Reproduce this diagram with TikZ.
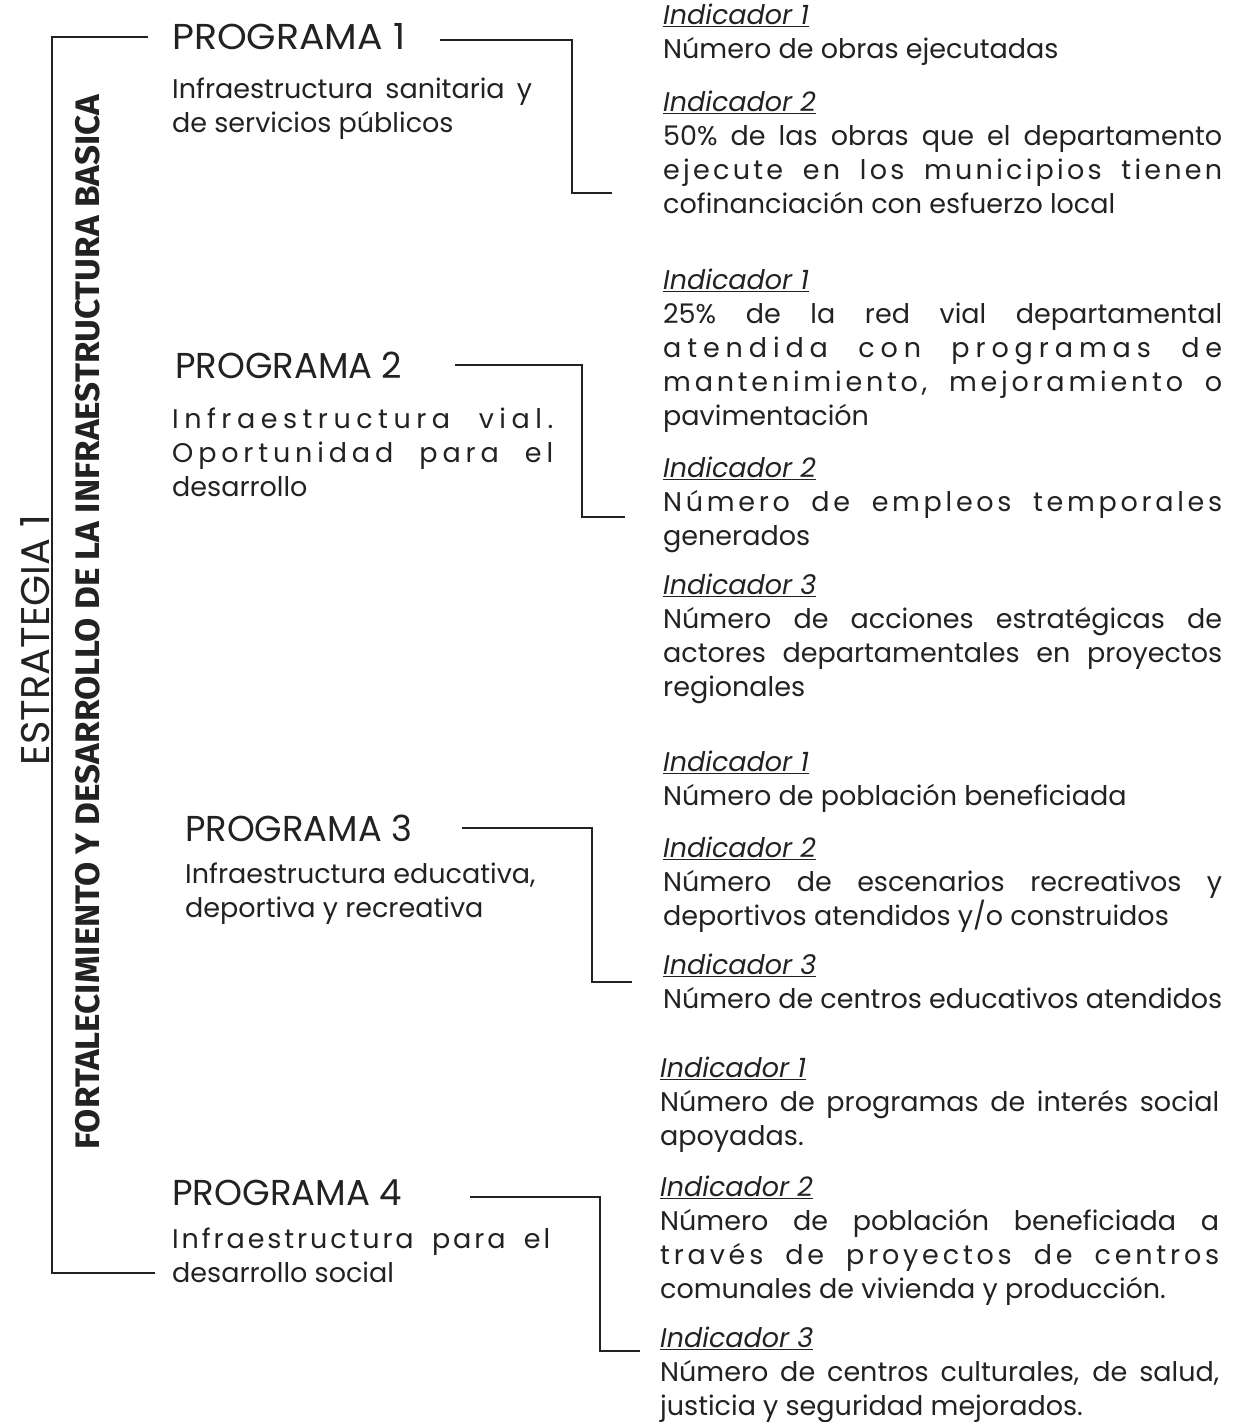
\documentclass[tikz,border=0pt]{standalone}
\usepackage{fontspec}
\usepackage{graphicx}
\setmainfont{Poppins}
\newfontfamily\boldsans{Fira Sans}
\usetikzlibrary{calc}
\def\cw{300pt}
% first-line strut handling
\def\firststrut{\rule{0pt}{30pt}}
\let\strutx\relax
\def\Fst{\global\let\strutx\firststrut}
\def\usestrut{\strutx\global\let\strutx\relax}
% justified line: spread word spaces
\newcommand\Jl[1]{\sbox0{#1}\ifdim\wd0>\cw\relax\hbox{\usestrut\resizebox{\cw}{\height}{#1}}\else\hbox to \cw{\usestrut\spaceskip=0.25em plus 1fil\relax#1}\fi}
% justified line: spread letters and words
\def\lsloop#1{\ifx\relax#1\else#1\hskip 0pt plus 1fil\relax\expandafter\lsloop\fi}
\def\lswords#1 #2\end{\lsloop#1\relax\ifx\relax#2\relax\else\hskip 0.25em plus 3fil\relax\lswords#2\end\fi}
\newcommand\Jls[1]{\hbox to \cw{\usestrut\lswords#1 \end\unskip}}
% last (left) line
\newcommand\Ln[1]{\sbox0{#1}\ifdim\wd0>\cw\relax\hbox{\usestrut\resizebox{\cw}{\height}{#1}}\else\hbox to \cw{\usestrut\box0\hfil}\fi}
\newcommand\Ind[1]{\hbox to \cw{\usestrut\underline{\textit{#1}}\hfil}}
% a block of lines stacked vertically
\newcommand\Blk[1]{\vtop{\Fst#1}}
\definecolor{ink}{HTML}{222222}
\tikzset{
  col/.style={/utils/exec={\def\cw{#1}}},
  body/.style={anchor=north west,inner sep=0pt,text=ink,font=\fontsize{27}{34}\selectfont},
  prog/.style={anchor=west,inner sep=0pt,text=ink,font=\fontsize{36}{36}\selectfont},
  conn/.style={draw=ink,line width=1.6pt},
}
\begin{document}
\begin{tikzpicture}[x=1pt,y=-1pt]
\useasboundingbox (0,0) rectangle (1244,1422);
\fill[white] (0,0) rectangle (1244,1422);

% rotated titles
\node[rotate=90,inner sep=0pt,text=ink] (estr) at (35,640)
  {\resizebox{250pt}{\height}{\fontsize{40}{40}\selectfont ESTRATEGIA 1}};
\node[rotate=90,inner sep=0pt,text=ink] (fort) at (88,622)
  {\resizebox{1055pt}{\height}{\boldsans\bfseries\fontsize{34}{34}\selectfont FORTALECIMIENTO Y DESARROLLO DE LA INFRAESTRUCTURA BASICA}};

% left bracket
\coordinate (bt) at (148,37);
\coordinate (bb) at (155,1273);
\draw[conn] (bt) -| ($(bb)+(-103,0)$) -- (bb);

% programs
\node[prog] (p1) at (172,37) {\resizebox{233pt}{\height}{PROGRAMA 1}};
\node[body,col=360pt] (p1s) at (172,68)
  {\Blk{\Jl{Infraestructura sanitaria y}\Ln{de servicios públicos}}};

\node[prog] (p2) at (175,365) {\resizebox{227pt}{\height}{PROGRAMA 2}};
\node[body,col=381pt] (p2s) at (172,398)
  {\Blk{\Jls{Infraestructura vial.}\Jls{Oportunidad para el}\Ln{desarrollo}}};

\node[prog] (p3) at (185,828) {\resizebox{227pt}{\height}{PROGRAMA 3}};
\node[body,col=360pt] (p3s) at (185,853)
  {\Blk{\Ln{Infraestructura educativa,}\Ln{deportiva y recreativa}}};

\node[prog] (p4) at (172,1193) {\resizebox{230pt}{\height}{PROGRAMA 4}};
\node[body,col=378pt] (p4s) at (172,1218)
  {\Blk{\Jls{Infraestructura para el}\Ln{desarrollo social}}};

% indicators, programa 1
\node[body,col=559pt] (i11) at (663,-6)
  {\Blk{\Ind{Indicador 1}\Ln{Número de obras ejecutadas}}};
\node[body,col=559pt] (i12) at (663,81)
  {\Blk{\Ind{Indicador 2}\Jl{50\% de las obras que el departamento}\Jls{ejecute en los municipios tienen}\Ln{cofinanciación con esfuerzo local}}};

% programa 2
\node[body,col=559pt] (i21) at (663,259)
  {\Blk{\Ind{Indicador 1}\Jl{25\% de la red vial departamental}\Jls{atendida con programas de}\Jls{mantenimiento, mejoramiento o}\Ln{pavimentación}}};
\node[body,col=559pt] (i22) at (663,447)
  {\Blk{\Ind{Indicador 2}\Jls{Número de empleos temporales}\Ln{generados}}};
\node[body,col=559pt] (i23) at (663,564)
  {\Blk{\Ind{Indicador 3}\Jl{Número de acciones estratégicas de}\Jl{actores departamentales en proyectos}\Ln{regionales}}};

% programa 3
\node[body,col=559pt] (i31) at (663,741)
  {\Blk{\Ind{Indicador 1}\Ln{Número de población beneficiada}}};
\node[body,col=559pt] (i32) at (663,827)
  {\Blk{\Ind{Indicador 2}\Jl{Número de escenarios recreativos y}\Ln{deportivos atendidos y/o construidos}}};
\node[body,col=559pt] (i33) at (663,944)
  {\Blk{\Ind{Indicador 3}\Jl{Número de centros educativos atendidos}}};

% programa 4
\node[body,col=559pt] (i41) at (660,1047)
  {\Blk{\Ind{Indicador 1}\Jl{Número de programas de interés social}\Ln{apoyadas.}}};
\node[body,col=559pt] (i42) at (660,1166)
  {\Blk{\Ind{Indicador 2}\Jl{Número de población beneficiada a}\Jls{través de proyectos de centros}\Ln{comunales de vivienda y producción.}}};
\node[body,col=559pt] (i43) at (660,1317)
  {\Blk{\Ind{Indicador 3}\Jl{Número de centros culturales, de salud,}\Ln{justicia y seguridad mejorados.}}};

% connectors programa -> indicadores
\coordinate (c1a) at (440,40);  \coordinate (c1b) at (612,193);
\coordinate (c2a) at (455,365); \coordinate (c2b) at (625,517);
\coordinate (c3a) at (462,828); \coordinate (c3b) at (632,982);
\coordinate (c4a) at (470,1197);\coordinate (c4b) at (640,1351);
\draw[conn] (c1a) -| ($(c1b)+(-40,0)$) -- (c1b);
\draw[conn] (c2a) -| ($(c2b)+(-43,0)$) -- (c2b);
\draw[conn] (c3a) -| ($(c3b)+(-40,0)$) -- (c3b);
\draw[conn] (c4a) -| ($(c4b)+(-40,0)$) -- (c4b);
\end{tikzpicture}
\end{document}
